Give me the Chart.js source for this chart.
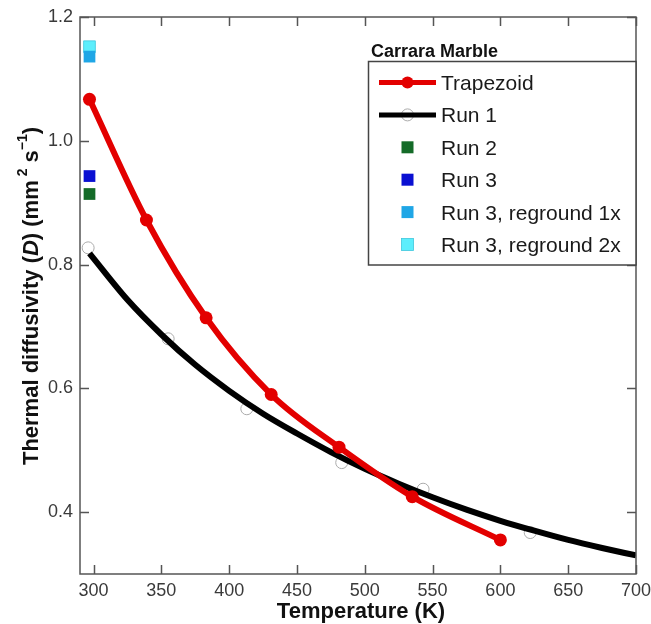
<!DOCTYPE html>
<html>
<head>
<meta charset="utf-8">
<script src="https://cdn.jsdelivr.net/npm/chart.js@4/dist/chart.umd.min.js"></script>
<style>
  html, body { margin: 0; padding: 0; background: #fff; }
  #wrap { width: 651px; height: 624px; }
</style>
</head>
<body>
<div id="wrap"><canvas id="c" width="651" height="624"></canvas></div>
<script>
// Trapezoid model (K, mm^2/s)
const trapezoidT = [297, 339, 383, 431, 481, 535, 600];
const trapezoidD = [1.067, 0.872, 0.714, 0.590, 0.505, 0.425, 0.355];

// Run 1 measurements
const run1T = [296, 355, 413, 483, 543, 622];
const run1D = [0.827, 0.680, 0.567, 0.480, 0.437, 0.367];

// Run 1 fitted curve
const fitT = [297, 325, 350, 375, 400, 425, 450, 475, 500, 525, 550, 575, 600, 625, 650, 675, 700];
const fitD = [0.818, 0.743, 0.687, 0.638, 0.596, 0.559, 0.527, 0.497, 0.470, 0.446, 0.424, 0.404, 0.386, 0.370, 0.355, 0.342, 0.330];

// Room-temperature repeats
const run2T = [297];      const run2D = [0.914];
const run3T = [297];      const run3D = [0.943];
const regrind1T = [297];  const regrind1D = [1.136];
const regrind2T = [297];  const regrind2D = [1.152];

// Axis ticks
const xTicks = [300, 350, 400, 450, 500, 550, 600, 650, 700];
const yTicks = [0.4, 0.6, 0.8, 1.0, 1.2];

const legendTitle = 'Carrara Marble';
const FONT = '"Liberation Sans", Arial, Helvetica, sans-serif';

const COLORS = {
  trap: '#e30000',
  fit: '#000000',
  run1: '#ababab',
  run2: '#146b28',
  run3: '#0a10d2',
  regrind1: '#1fa6e6',
  regrind2: '#5ceefc'
};

const pts = (xs, ys) => xs.map((x, i) => ({ x: x, y: ys[i] }));

const datasets = [
  {
    label: 'Run 1 data', data: pts(run1T, run1D), showLine: false,
    pointStyle: 'circle', pointRadius: 6, pointBorderWidth: 1,
    pointBorderColor: COLORS.run1, pointBackgroundColor: 'rgba(0,0,0,0)', order: 6
  },
  {
    label: 'Run 1', data: pts(fitT, fitD), showLine: true,
    borderColor: COLORS.fit, borderWidth: 6, pointRadius: 0,
    cubicInterpolationMode: 'monotone', order: 5
  },
  {
    label: 'Trapezoid', data: pts(trapezoidT, trapezoidD), showLine: true,
    borderColor: COLORS.trap, borderWidth: 6, pointRadius: 6.5,
    pointBackgroundColor: COLORS.trap, pointBorderColor: COLORS.trap, pointBorderWidth: 0,
    cubicInterpolationMode: 'monotone', order: 4
  },
  {
    label: 'Run 2', data: pts(run2T, run2D), showLine: false, pointStyle: 'rect',
    pointRadius: 8.3, pointBackgroundColor: COLORS.run2, pointBorderColor: COLORS.run2, pointBorderWidth: 0, order: 3
  },
  {
    label: 'Run 3', data: pts(run3T, run3D), showLine: false, pointStyle: 'rect',
    pointRadius: 8.3, pointBackgroundColor: COLORS.run3, pointBorderColor: COLORS.run3, pointBorderWidth: 0, order: 2
  },
  {
    label: 'Run 3, reground 2x', data: pts(regrind2T, regrind2D), showLine: false, pointStyle: 'rect',
    pointRadius: 8.3, pointBackgroundColor: COLORS.regrind2, pointBorderColor: '#3fc6dc', pointBorderWidth: 0.8, order: 1
  },
  {
    label: 'Run 3, reground 1x', data: pts(regrind1T, regrind1D), showLine: false, pointStyle: 'rect',
    pointRadius: 8.3, pointBackgroundColor: COLORS.regrind1, pointBorderColor: COLORS.regrind1, pointBorderWidth: 0, order: 0
  }
];

// Frame around the plot with inward ticks on all four sides
const framePlugin = {
  id: 'frame',
  afterDatasetsDraw(chart) {
    const { ctx, chartArea: a, scales } = chart;
    ctx.save();
    ctx.strokeStyle = '#555';
    ctx.lineWidth = 1.5;
    ctx.strokeRect(a.left, a.top, a.right - a.left, a.bottom - a.top);
    const len = 9;
    ctx.beginPath();
    xTicks.forEach(v => {
      const px = Math.round(scales.x.getPixelForValue(v)) + 0.5;
      ctx.moveTo(px, a.bottom); ctx.lineTo(px, a.bottom - len);
      ctx.moveTo(px, a.top); ctx.lineTo(px, a.top + len);
    });
    yTicks.forEach(v => {
      const py = Math.round(scales.y.getPixelForValue(v)) + 0.5;
      ctx.moveTo(a.left, py); ctx.lineTo(a.left + len, py);
      ctx.moveTo(a.right, py); ctx.lineTo(a.right - len, py);
    });
    ctx.stroke();
    ctx.restore();
  }
};

// Axis titles with italic symbol and superscripts
const titlesPlugin = {
  id: 'titles',
  afterDraw(chart) {
    const { ctx } = chart;
    ctx.save();
    ctx.fillStyle = '#111';
    ctx.textBaseline = 'alphabetic';
    // x title
    ctx.font = 'bold 22px ' + FONT;
    ctx.textAlign = 'center';
    ctx.fillText('Temperature (K)', 361, 618);

    // y title
    const big = 'bold 22px ' + FONT;
    const ital = 'italic bold 22px ' + FONT;
    const small = 'bold 14px ' + FONT;
    const parts = [
      { t: 'Thermal diffusivity (', f: big, dy: 0 },
      { t: 'D', f: ital, dy: 0 },
      { t: ') (mm', f: big, dy: 0 },
      { t: ' 2', f: small, dy: -11 },
      { t: ' s', f: big, dy: 0 },
      { t: '\u22121', f: small, dy: -11 },
      { t: ')', f: big, dy: 0 }
    ];
    let total = 0;
    parts.forEach(p => { ctx.font = p.f; p.w = ctx.measureText(p.t).width; total += p.w; });
    ctx.translate(38, 296);
    ctx.rotate(-Math.PI / 2);
    ctx.textAlign = 'left';
    let x = -total / 2;
    parts.forEach(p => { ctx.font = p.f; ctx.fillText(p.t, x, p.dy); x += p.w; });
    ctx.restore();
  }
};

// Boxed legend with its heading
const legendPlugin = {
  id: 'boxLegend',
  afterDraw(chart) {
    const { ctx } = chart;
    ctx.save();
    ctx.fillStyle = '#111';
    ctx.font = 'bold 18px ' + FONT;
    ctx.textAlign = 'left';
    ctx.textBaseline = 'alphabetic';
    ctx.fillText(legendTitle, 371, 57);

    const bx = 368.5, by = 61.5, bw = 636 - 368.5, bh = 265 - 61.5;
    ctx.fillStyle = '#fff';
    ctx.fillRect(bx, by, bw, bh);
    ctx.strokeStyle = '#444';
    ctx.lineWidth = 1.5;
    ctx.strokeRect(bx, by, bw, bh);

    const rows = [
      { label: 'Trapezoid', kind: 'trap' },
      { label: 'Run 1', kind: 'run1' },
      { label: 'Run 2', kind: 'sq', color: COLORS.run2 },
      { label: 'Run 3', kind: 'sq', color: COLORS.run3 },
      { label: 'Run 3, reground 1x', kind: 'sq', color: COLORS.regrind1 },
      { label: 'Run 3, reground 2x', kind: 'sq', color: COLORS.regrind2, edge: '#3fc6dc' }
    ];
    const x0 = 379, x1 = 436, cx = 407.5, textX = 441;
    rows.forEach((r, i) => {
      const cy = 82.5 + i * 32.4;
      if (r.kind === 'trap') {
        ctx.strokeStyle = COLORS.trap; ctx.lineWidth = 5;
        ctx.beginPath(); ctx.moveTo(x0, cy); ctx.lineTo(x1, cy); ctx.stroke();
        ctx.fillStyle = COLORS.trap;
        ctx.beginPath(); ctx.arc(cx, cy, 6, 0, Math.PI * 2); ctx.fill();
      } else if (r.kind === 'run1') {
        ctx.strokeStyle = COLORS.run1; ctx.lineWidth = 1;
        ctx.beginPath(); ctx.arc(cx, cy, 6, 0, Math.PI * 2); ctx.stroke();
        ctx.strokeStyle = COLORS.fit; ctx.lineWidth = 5;
        ctx.beginPath(); ctx.moveTo(x0, cy); ctx.lineTo(x1, cy); ctx.stroke();
      } else {
        ctx.fillStyle = r.color;
        ctx.fillRect(cx - 6, cy - 6, 12, 12);
        if (r.edge) { ctx.strokeStyle = r.edge; ctx.lineWidth = 0.8; ctx.strokeRect(cx - 6, cy - 6, 12, 12); }
      }
      ctx.fillStyle = '#1a1a1a';
      ctx.font = '21px ' + FONT;
      ctx.fillText(r.label, textX, cy + 7.5);
    });
    ctx.restore();
  }
};

new Chart(document.getElementById('c'), {
  type: 'scatter',
  data: { datasets: datasets },
  options: {
    responsive: false,
    devicePixelRatio: 1,
    animation: false,
    layout: { padding: { top: 17, right: 15, left: 0, bottom: 0 } },
    plugins: { legend: { display: false }, tooltip: { enabled: false } },
    scales: {
      x: {
        type: 'linear', min: 290, max: 700,
        afterBuildTicks: s => { s.ticks = xTicks.map(v => ({ value: v })); },
        afterFit: s => { s.height = 50; s.paddingLeft = 0; s.paddingRight = 0; },
        grid: { display: false, drawTicks: false },
        border: { display: false },
        ticks: { color: '#3a3a3a', font: { family: FONT, size: 18 }, padding: 6, maxRotation: 0,
                 callback: v => String(v) }
      },
      y: {
        type: 'linear', min: 0.3, max: 1.2,
        afterBuildTicks: s => { s.ticks = yTicks.map(v => ({ value: v })); },
        afterFit: s => { s.width = 80; s.paddingTop = 0; s.paddingBottom = 0; },
        grid: { display: false, drawTicks: false },
        border: { display: false },
        ticks: { color: '#3a3a3a', font: { family: FONT, size: 18 }, padding: 7,
                 callback: v => Number(v).toFixed(1) }
      }
    }
  },
  plugins: [framePlugin, titlesPlugin, legendPlugin]
});
</script>
</body>
</html>
